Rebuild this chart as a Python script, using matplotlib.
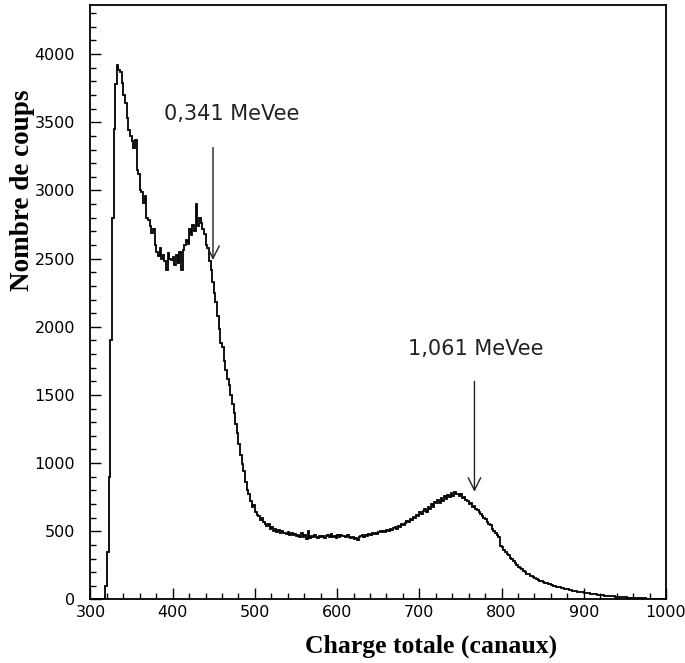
import numpy as np
import matplotlib
matplotlib.use("Agg")
import matplotlib.pyplot as plt
from matplotlib.ticker import MultipleLocator

# Histogram: counts per 2-channel bin, starting at channel 300
bin_start = 300
bin_width = 2
counts = [
    0, 0, 0, 0, 0, 0, 0, 0, 0, 100,                                  # 300
    350, 900, 1900, 2800, 3450, 3780, 3920, 3880, 3870, 3790,        # 320
    3700, 3640, 3530, 3440, 3400, 3360, 3310, 3370, 3150, 3120,      # 340
    3000, 2990, 2910, 2960, 2800, 2780, 2740, 2690, 2720, 2600,      # 360
    2550, 2520, 2580, 2500, 2530, 2480, 2420, 2540, 2500, 2490,      # 380
    2510, 2450, 2530, 2470, 2550, 2420, 2560, 2600, 2640, 2610,      # 400
    2720, 2670, 2750, 2700, 2900, 2740, 2800, 2760, 2720, 2680,      # 420
    2600, 2580, 2480, 2420, 2330, 2250, 2180, 2080, 1980, 1880,      # 440
    1850, 1750, 1680, 1620, 1570, 1500, 1430, 1370, 1290, 1220,      # 460
    1140, 1060, 990, 940, 860, 800, 770, 720, 680, 690,              # 480
    640, 620, 610, 580, 600, 565, 550, 540, 555, 520,                # 500
    530, 505, 515, 495, 510, 490, 505, 485, 490, 480,                # 520
    495, 470, 485, 475, 480, 465, 470, 460, 485, 455,                # 540
    470, 440, 500, 450, 465, 455, 470, 460, 450, 468,                # 560
    455, 465, 450, 462, 470, 455, 478, 460, 465, 450,                # 580
    470, 458, 475, 462, 468, 455, 470, 460, 448, 455,                # 600
    440, 450, 435, 458, 462, 470, 460, 475, 468, 480,                # 620
    472, 485, 478, 490, 482, 495, 500, 492, 505, 498,                # 640
    512, 505, 518, 510, 525, 530, 520, 540, 535, 555,                # 660
    545, 560, 575, 565, 590, 580, 605, 595, 620, 610,                # 680
    640, 625, 650, 660, 640, 680, 665, 700, 680, 715,                # 700
    705, 730, 710, 745, 725, 760, 740, 765, 750, 780,                # 720
    760, 785, 770, 775, 760, 770, 745, 755, 730, 720,                # 740
    700, 705, 680, 685, 665, 655, 640, 630, 615, 600,                # 760
    590, 570, 555, 545, 520, 505, 490, 470, 455, 395,                # 780
    385, 360, 350, 335, 325, 305, 300, 280, 265, 250,                # 800
    240, 232, 220, 210, 200, 190, 185, 175, 172, 165,                # 820
    158, 150, 146, 138, 132, 128, 124, 120, 114, 110,                # 840
    106, 102, 98, 95, 92, 88, 86, 82, 80, 76,                        # 860
    74, 70, 68, 65, 63, 60, 58, 56, 54, 52,                          # 880
    50, 48, 46, 44, 42, 40, 38, 37, 35, 34,                          # 900
    32, 31, 29, 28, 27, 26, 25, 24, 22, 21,                          # 920
    20, 19, 18, 17, 16, 15, 14, 13, 13, 12,                          # 940
    11, 11, 10, 10, 9, 9, 8, 8, 7, 7,                                # 960
    6, 6, 5, 5, 5, 4, 4, 4, 3, 3,                                    # 980
]

x_ticks = [300, 400, 500, 600, 700, 800, 900, 1000]
y_ticks = [0, 500, 1000, 1500, 2000, 2500, 3000, 3500, 4000]

# Annotations: label, channel, arrow top, arrow tip, label position
ann_labels = ["0,341 MeVee", "1,061 MeVee"]
ann_channel = [449, 767]
ann_top = [3315, 1600]
ann_tip = [2490, 790]
ann_label_x = [472, 769]
ann_label_y = [3560, 1840]

fig = plt.figure(figsize=(6.85, 6.63), dpi=100)
ax = fig.add_axes([0.1321, 0.0958, 0.8402, 0.8967])

edges = bin_start + bin_width * np.arange(len(counts) + 1)
ax.stairs(counts, edges, color="black", linewidth=1.3)

ax.set_xlim(300, 1000)
ax.set_ylim(0, 4360)
ax.set_xticks(x_ticks)
ax.set_yticks(y_ticks)
ax.xaxis.set_minor_locator(MultipleLocator(20))
ax.yaxis.set_minor_locator(MultipleLocator(100))
ax.tick_params(which="both", direction="in", top=False, right=False, width=1)
ax.tick_params(which="major", length=8)
ax.tick_params(which="minor", length=4.5)
ax.tick_params(axis="y", which="major", pad=11, labelsize=11.5)
ax.tick_params(axis="x", which="major", pad=4, labelsize=11.5)
for s in ax.spines.values():
    s.set_linewidth(1.3)

for lab, cx, top, tip, lx, ly in zip(ann_labels, ann_channel, ann_top, ann_tip,
                                     ann_label_x, ann_label_y):
    ax.annotate("", xy=(cx, tip), xytext=(cx, top),
                arrowprops=dict(arrowstyle="->,head_length=0.9,head_width=0.45",
                                lw=1.0, color="#222222", shrinkA=0, shrinkB=0))
    ax.text(lx, ly, lab, ha="center", va="center", fontsize=15,
            family="DejaVu Sans", color="#222222")

fig.text(23 / 685, 1 - 190 / 663, "Nombre de coups", family="Liberation Serif",
         fontweight="bold", fontsize=19.5, rotation=90, ha="center", va="center")
fig.text(431 / 685, 1 - 646 / 663, "Charge totale (canaux)", family="Liberation Serif",
         fontweight="bold", fontsize=18.5, ha="center", va="center")

fig.savefig("out.png", dpi=100)
